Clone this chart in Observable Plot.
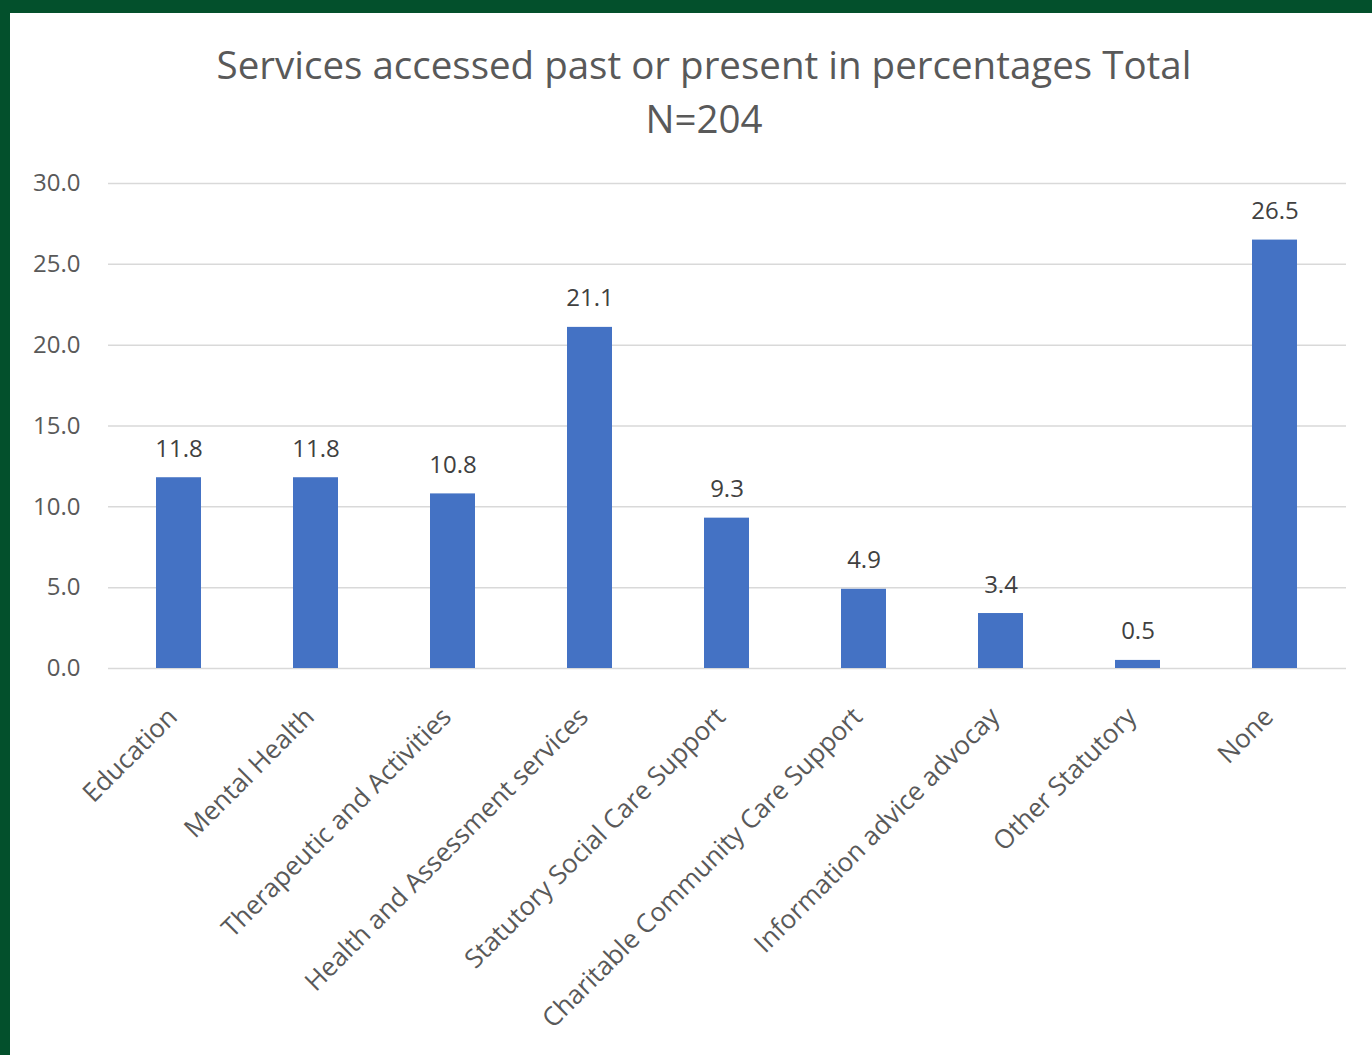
<!DOCTYPE html>
<html><head><meta charset="utf-8">
<script src="https://cdn.jsdelivr.net/npm/d3@7"></script>
<script src="https://cdn.jsdelivr.net/npm/@observablehq/plot@0.6"></script>
<style>
html,body{margin:0;padding:0;background:#fff;}
#frame{position:relative;width:1372px;height:1055px;overflow:hidden;background:#fff;}
#bl{position:absolute;left:0;top:0;width:10px;height:1055px;background:#03502c;}
#bt{position:absolute;left:0;top:0;width:1372px;height:13px;background:#03502c;}
#title{position:absolute;left:0;top:37px;width:1408px;text-align:center;font-family:"Open Sans",sans-serif;font-size:38.5px;line-height:54px;color:#595959;}
#chart{position:absolute;left:0;top:0;}
</style></head>
<body>
<div id="frame">
<div id="title">Services accessed past or present in percentages Total<br>N=204</div>
<div id="chart"></div>
<div id="bl"></div><div id="bt"></div>
</div>
<script>
const categories = ["Education","Mental Health","Therapeutic and Activities","Health and Assessment services","Statutory Social Care Support","Charitable Community Care Support","Information advice advocay","Other Statutory","None"];
const values = [11.8,11.8,10.8,21.1,9.3,4.9,3.4,0.5,26.5];
const yTicks = [0,5,10,15,20,25,30];
const data = categories.map((c,i)=>({category:c,value:values[i]}));

const chart = Plot.plot({
  width:1372, height:1055,
  marginLeft:108, marginRight:26, marginTop:183, marginBottom:387,
  style:{fontFamily:"'Open Sans', sans-serif", fontSize:"24px", color:"#595959", background:"transparent"},
  x:{domain:categories, paddingInner:0.67, paddingOuter:0.335, label:null},
  y:{domain:[0,30], label:null},
  marks:[
    Plot.gridY(yTicks,{stroke:"#d9d9d9", strokeOpacity:1, strokeWidth:1.5}),
    Plot.axisY(yTicks,{tickSize:0, tickPadding:28, tickFormat:d=>d.toFixed(1), fontSize:24, fill:"#595959", label:null}),
    Plot.axisX({tickSize:0, tickPadding:44, dx:-6, tickRotate:-45, fontSize:26, fill:"#595959", label:null}),
    Plot.barY(data,{x:"category", y:"value", fill:"#4472c4"}),
    Plot.text(data,{x:"category", y:"value", text:d=>d.value.toFixed(1), dy:-21, lineAnchor:"bottom", fontSize:24, fill:"#404040"})
  ]
});
document.getElementById("chart").appendChild(chart);
</script>
</body></html>
